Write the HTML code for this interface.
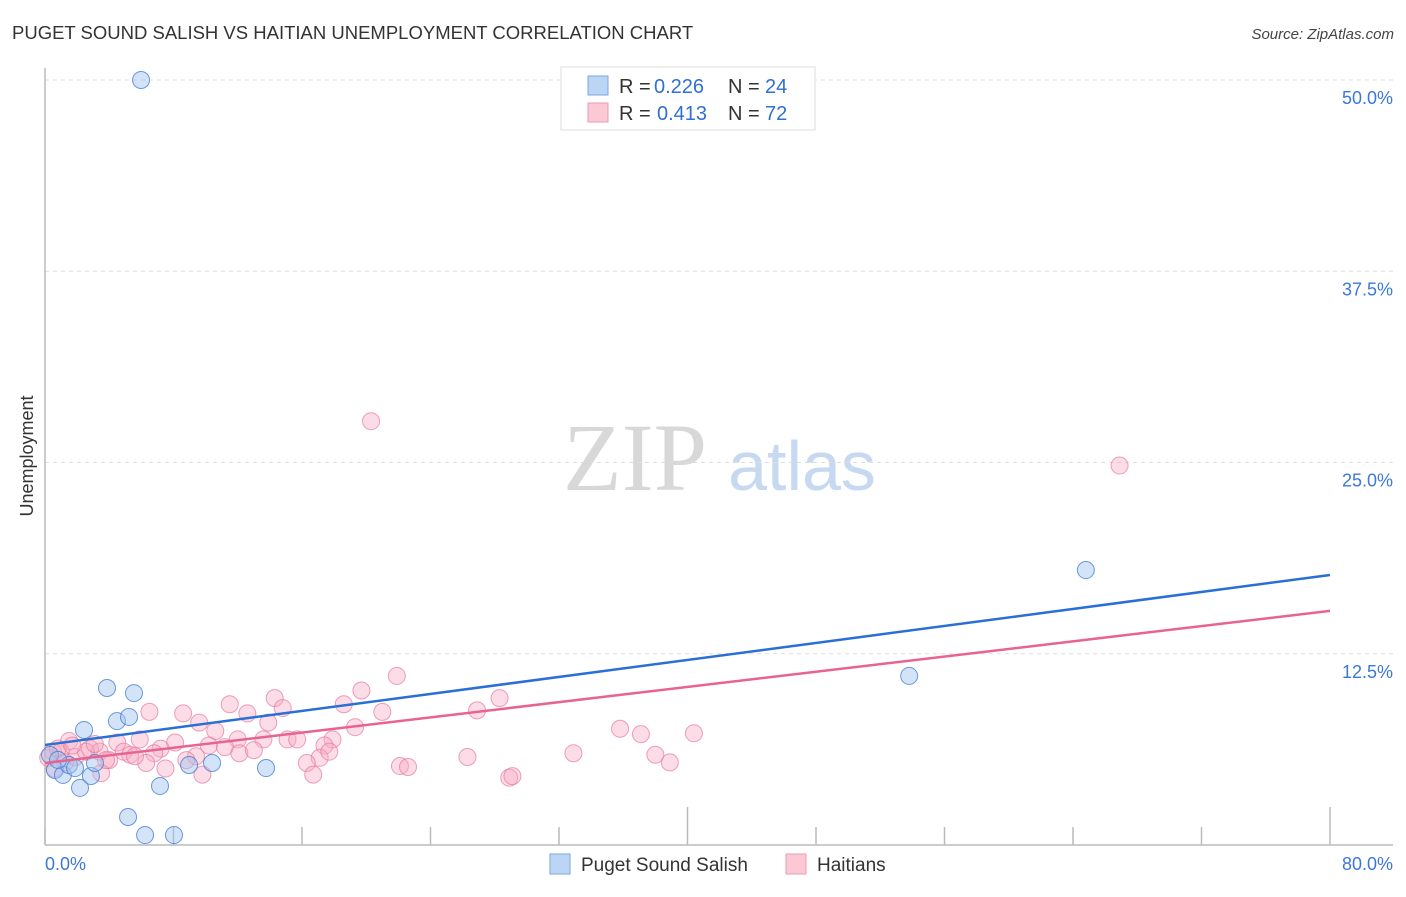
<!DOCTYPE html>
<html><head><meta charset="utf-8"><style>
body{margin:0;background:#fff;font-family:"Liberation Sans",sans-serif;}
</style></head><body>
<svg id="chart" width="1406" height="892" viewBox="0 0 1406 892" xmlns="http://www.w3.org/2000/svg" font-family="Liberation Sans, sans-serif">
<text x="12" y="39" font-size="18.5" fill="#333">PUGET SOUND SALISH VS HAITIAN UNEMPLOYMENT CORRELATION CHART</text>
<text x="1394" y="39" font-size="15" fill="#444" text-anchor="end" font-style="italic">Source: ZipAtlas.com</text>
<g>
<text x="635" y="490" font-size="96" fill="#d8d8d8" text-anchor="middle" style="font-family:'Liberation Serif',serif">ZIP</text>
<text x="802" y="490" font-size="70" fill="#c6d9f1" text-anchor="middle">atlas</text>
</g>
<g id="grid"></g>
<g id="axes"></g>
<g id="marks"></g>
<text transform="translate(33,456) rotate(-90)" font-size="18" fill="#333" text-anchor="middle">Unemployment</text>
<g>
<rect x="561" y="67" width="254" height="63" fill="#fff" stroke="#ddd"/>
<rect x="588" y="76" width="20" height="19" fill="#bcd5f5" stroke="#7aa6e0"/>
<rect x="588" y="103" width="20" height="19" fill="#fbc8d6" stroke="#ee9ab3"/>
<text x="619" y="93" font-size="20" fill="#333">R =</text>
<text x="654" y="93" font-size="20" fill="#2f6fd6">0.226</text>
<text x="728" y="93" font-size="20" fill="#333">N =</text>
<text x="765" y="93" font-size="20" fill="#2f6fd6">24</text>
<text x="619" y="120" font-size="20" fill="#333">R =</text>
<text x="657" y="120" font-size="20" fill="#2f6fd6">0.413</text>
<text x="728" y="120" font-size="20" fill="#333">N =</text>
<text x="765" y="120" font-size="20" fill="#2f6fd6">72</text>
</g>
<g>
<rect x="550" y="854" width="20" height="20" fill="#bcd5f5" stroke="#7aa6e0"/>
<text x="581" y="871" font-size="19" fill="#333">Puget Sound Salish</text>
<rect x="786" y="854" width="20" height="20" fill="#fbc8d6" stroke="#ee9ab3"/>
<text x="817" y="871" font-size="19" fill="#333">Haitians</text>
</g>
</svg>
<script>
const yTicks=[12.5,25,37.5,50];
const yTickLabels=["12.5%","25.0%","37.5%","50.0%"];
const xTickValues=[0,8,16,24,32,40,48,56,64,72,80];
const blueX=[5.98,3.86,5.54,2.43,4.48,5.23,0.62,1.12,1.49,1.87,2.86,3.11,2.18,7.16,8.97,10.4,13.76,5.17,6.23,8.03,53.8,64.8,0.31,0.81];
const blueY=[50.0,10.26,9.93,7.52,8.10,8.37,4.90,4.58,5.23,5.03,4.51,5.36,3.73,3.86,5.23,5.36,5.03,1.83,0.65,0.65,11.05,17.97,5.88,5.56];
const pinkX=[66.9,20.3,21.9,19.7,14.3,28.3,11.5,14.8,18.6,6.5,8.6,12.6,26.9,21.0,9.6,13.9,19.3,35.8,40.4,37.1,10.6,17.9,15.1,15.7,13.6,12.0,8.1,5.9,4.5,1.5,2.8,7.2,10.2,11.2,17.4,4.9,3.4,0.5,0.99,5.3,6.8,9.4,12.1,13.0,17.1,17.7,1.9,2.55,4.0,8.8,16.3,6.3,32.9,38.0,38.9,26.3,22.1,22.6,7.5,16.7,28.9,29.1,9.8,3.5,0.6,0.2,3.8,5.6,0.8,3.1,1.25,1.7];
const pinkY=[24.8,27.7,11.05,10.1,9.6,9.6,9.2,8.95,9.2,8.7,8.6,8.6,8.8,8.7,8.0,8.0,7.7,7.6,7.3,7.25,7.45,6.9,6.9,6.9,6.9,6.9,6.7,6.9,6.7,6.8,6.3,6.3,6.5,6.4,6.5,6.1,6.1,6.1,6.1,5.9,6.0,5.8,6.0,6.2,5.7,6.1,5.75,6.1,5.55,5.55,5.36,5.36,6.0,5.9,5.4,5.75,5.16,5.1,5.0,4.6,4.4,4.5,4.6,4.7,5.0,5.7,5.55,5.8,6.3,6.6,5.4,6.5];
const blueTrend=[6.54,17.65];
const pinkTrend=[5.36,15.3];
const xs=v=>45+v*(1285/80);
const ys=v=>845-v*(765/50);
const NS="http://www.w3.org/2000/svg";
function mk(t,a,p){const e=document.createElementNS(NS,t);for(const k in a)e.setAttribute(k,a[k]);p.appendChild(e);return e;}
const grid=document.getElementById('grid'),axes=document.getElementById('axes'),marks=document.getElementById('marks');
yTicks.forEach((v,i)=>{
 const l=mk('line',{x1:45,x2:1393,y1:ys(v),y2:ys(v),stroke:'#ddd','stroke-dasharray':'4,4'},grid);
 
 
 const t=mk('text',{x:1393,y:ys(v)+24,'font-size':18,fill:'#3b78d8','text-anchor':'end'},grid);
 t.textContent=yTickLabels[i];
 
 
});
const ax=mk('line',{x1:45,x2:1393,y1:845,y2:845,stroke:'#bbb','stroke-width':1.5},axes);


const ay=mk('line',{x1:45,x2:45,y1:68,y2:845,stroke:'#bbb','stroke-width':1.5},axes);


xTickValues.forEach((v,i)=>{
 const long=(v===40||v===80);
 const tk=mk('line',{x1:xs(v),x2:xs(v),y1:long?807:827,y2:845,stroke:'#bbb','stroke-width':1.5},axes);
 
 
});
const xl0=mk('text',{x:45,y:870,'font-size':18,fill:'#3b78d8'},axes);xl0.textContent='0.0%';


const xl1=mk('text',{x:1393,y:870,'font-size':18,fill:'#3b78d8','text-anchor':'end'},axes);xl1.textContent='80.0%';


pinkX.forEach((x,i)=>{
 const c=mk('circle',{cx:xs(x),cy:ys(pinkY[i]),r:8.5,fill:'rgba(248,170,195,0.4)',stroke:'rgba(230,120,155,0.7)','stroke-width':1},marks);
 
 
});
blueX.forEach((x,i)=>{
 const c=mk('circle',{cx:xs(x),cy:ys(blueY[i]),r:8.5,fill:'rgba(160,195,240,0.45)',stroke:'rgba(60,120,210,0.75)','stroke-width':1},marks);
 
 
});
const bl=mk('line',{x1:xs(0),y1:ys(blueTrend[0]),x2:xs(80),y2:ys(blueTrend[1]),stroke:'#2a6fd6','stroke-width':2.5},marks);


const pl=mk('line',{x1:xs(0),y1:ys(pinkTrend[0]),x2:xs(80),y2:ys(pinkTrend[1]),stroke:'#e8648e','stroke-width':2.5},marks);


</script>
</body></html>
